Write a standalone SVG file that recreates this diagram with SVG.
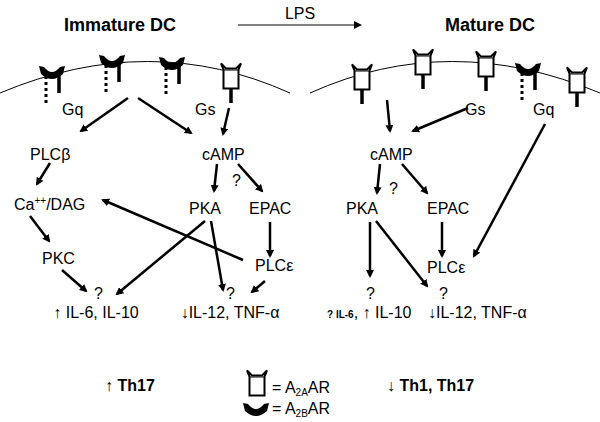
<svg xmlns="http://www.w3.org/2000/svg" width="600" height="422" viewBox="0 0 600 422">
<style>
text{font-family:"Liberation Sans",Arial,sans-serif;font-size:16px;fill:#000}
.b{font-weight:bold;font-size:18px}
.m{fill:none;stroke:#000;stroke-width:1}
.a{fill:none;stroke:#000;stroke-width:2.5;marker-end:url(#ah)}
.cup{fill:#fff;stroke:#000;stroke-width:1.6}
.stem{stroke:#000;stroke-width:3.5}
.dot{stroke:#000;stroke-width:3;stroke-dasharray:3,3}
</style>
<defs>
<marker id="ah" markerWidth="8" markerHeight="8" refX="6" refY="4" orient="auto" markerUnits="userSpaceOnUse" viewBox="0 0 8 8"><path d="M0,0 L8,4 L0,8 Z" fill="#000"/></marker>
<marker id="ah2" markerWidth="8" markerHeight="8" refX="6" refY="4" orient="auto" markerUnits="userSpaceOnUse" viewBox="0 0 8 8"><path d="M0,0 L8,4 L0,8 Z" fill="#000"/></marker>
<g id="cupA"><path class="cup" d="M-8,-10 L-6,-5 L-6,10 L6,10 L6,-5 L8,-10 L4,-6 L-4,-6 Z" transform="scale(1.25)"/><line class="m" x1="-7.5" y1="-6" x2="7.5" y2="-6"/></g>
<g id="a2a"><line class="stem" x1="0" y1="9" x2="0" y2="27"/><use href="#cupA"/></g>
<path id="cres" d="M-13,-7 L-8,-6 Q0,4 8,-6 L13,-7 L11,1 Q0,11 -11,1 Z" fill="#000"/>
<g id="a2b"><line class="dot" x1="-6" y1="3" x2="-6" y2="32"/><line class="stem" x1="7" y1="0" x2="7" y2="20"/><use href="#cres"/></g>
</defs>
<g id="membranes">
<path class="m" d="M0,93 Q150,30 290,93"/>
<path class="m" d="M310,93 Q450,30 600,93"/>
</g>
<g id="receptors">
<use href="#a2b" x="52" y="73"/>
<use href="#a2b" x="112" y="62"/>
<use href="#a2b" x="172" y="64"/>
<use href="#a2a" x="231" y="76"/>
<use href="#a2a" x="362" y="77"/>
<use href="#a2a" x="423" y="62"/>
<use href="#a2a" x="486" y="64"/>
<use href="#a2b" x="528" y="70"/>
<use href="#a2a" x="577" y="80"/>
</g>
<g id="titles">
<text class="b" x="120" y="31" text-anchor="middle">Immature DC</text>
<text x="300" y="19" text-anchor="middle" font-size="15">LPS</text>
<text class="b" x="490" y="31" text-anchor="middle">Mature DC</text>
</g>
<g id="left-nodes">
<text x="62" y="115">Gq</text>
<text x="195" y="115">Gs</text>
<text x="30" y="160">PLCβ</text>
<text x="202" y="160">cAMP</text>
<text x="14" y="210">Ca<tspan font-size="10" dy="-6">++</tspan><tspan dy="6">/DAG</tspan></text>
<text x="189" y="214">PKA</text>
<text x="249" y="214">EPAC</text>
<text x="232" y="186">?</text>
<text x="42" y="264">PKC</text>
<text x="255" y="271">PLCε</text>
<text x="94" y="299">?</text>
<text x="226" y="299">?</text>
<text x="96" y="318" text-anchor="middle">↑ IL-6, IL-10</text>
<text x="230" y="318" text-anchor="middle">↓IL-12, TNF-α</text>
</g>
<g id="right-nodes">
<text x="465" y="115">Gs</text>
<text x="533" y="115">Gq</text>
<text x="370" y="160">cAMP</text>
<text x="389" y="194">?</text>
<text x="346" y="214">PKA</text>
<text x="427" y="214">EPAC</text>
<text x="427" y="273">PLCε</text>
<text x="366" y="299">?</text>
<text x="439" y="299">?</text>
<text x="327" y="318"><tspan font-size="10" font-weight="bold">? IL-6</tspan>, ↑ IL-10</text>
<text x="428" y="318">↓IL-12, TNF-α</text>
</g>
<g id="bottom">
<text x="105" y="391">↑ <tspan font-weight="bold">Th17</tspan></text>
<use href="#cupA" x="257" y="383"/>
<text x="272" y="393">= A<tspan font-size="10" dy="3">2A</tspan><tspan dy="-3">AR</tspan></text>
<use href="#cres" x="256" y="410"/>
<text x="272" y="414">= A<tspan font-size="10" dy="3">2B</tspan><tspan dy="-3">AR</tspan></text>
<text x="387" y="391">↓ <tspan font-weight="bold">Th1, Th17</tspan></text>
</g>
<g id="connectors">
<line x1="238" y1="25" x2="360" y2="25" stroke="#000" stroke-width="1" marker-end="url(#ah2)"/>
<line class="a" x1="128" y1="98" x2="81" y2="131"/>
<line class="a" x1="138" y1="98" x2="191" y2="133"/>
<line class="a" x1="229" y1="108" x2="223" y2="134"/>
<line class="a" x1="50" y1="163" x2="37" y2="184"/>
<line class="a" x1="217" y1="164" x2="214" y2="191"/>
<line class="a" x1="238" y1="164" x2="262" y2="191"/>
<line class="a" x1="30" y1="216" x2="49" y2="241"/>
<line class="a" x1="270" y1="222" x2="270" y2="256"/>
<line class="a" x1="243" y1="260" x2="103" y2="200"/>
<line class="a" x1="205" y1="221" x2="117" y2="294"/>
<line class="a" x1="211" y1="221" x2="223" y2="290"/>
<line class="a" x1="62" y1="270" x2="86" y2="291"/>
<line class="a" x1="265" y1="281" x2="252" y2="292"/>
<line class="a" x1="387" y1="100" x2="390" y2="131"/>
<line class="a" x1="468" y1="108" x2="413" y2="131"/>
<line class="a" x1="545" y1="124" x2="474" y2="256"/>
<line class="a" x1="380" y1="164" x2="377" y2="193"/>
<line class="a" x1="402" y1="164" x2="427" y2="193"/>
<line class="a" x1="442" y1="222" x2="442" y2="256"/>
<line class="a" x1="370" y1="222" x2="370" y2="276"/>
<line class="a" x1="376" y1="221" x2="427" y2="286"/>
</g>
</svg>
